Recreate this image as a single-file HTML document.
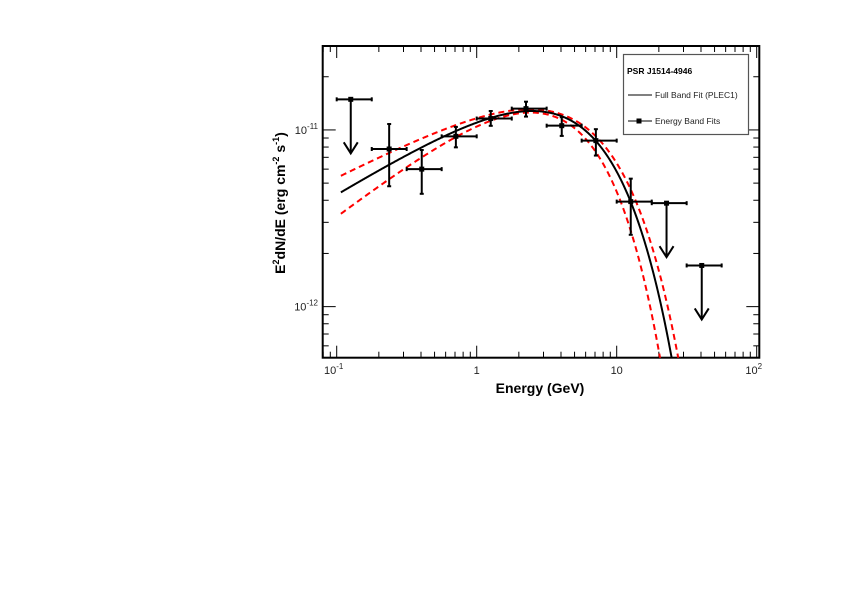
<!DOCTYPE html>
<html><head><meta charset="utf-8"><style>
html,body{margin:0;padding:0;background:#fff;width:842px;height:595px;overflow:hidden;}
svg{display:block;font-family:"Liberation Sans",Arial,sans-serif;}
</style></head><body>
<svg id="chart" width="842" height="595" viewBox="0 0 842 595" xmlns="http://www.w3.org/2000/svg">
<rect x="0" y="0" width="842" height="595" fill="#fff"/>
<g id="plot"></g>
<g id="legend">
  <rect x="623.5" y="54.5" width="125" height="80" fill="#fff" stroke="#555" stroke-width="1.2"/>
  <text x="627" y="74" font-size="8.5" font-weight="bold">PSR J1514-4946</text>
  <line x1="628" y1="95" x2="652" y2="95" stroke="#000" stroke-width="1"/>
  <text x="655" y="98" font-size="8.5" fill="#222">Full Band Fit (PLEC1)</text>
  <line x1="628" y1="121" x2="652" y2="121" stroke="#000" stroke-width="1"/>
  <rect x="636.5" y="118.5" width="5" height="5" fill="#000"/>
  <text x="655" y="124" font-size="8.5" fill="#222">Energy Band Fits</text>
</g>
</svg>
<script>
// ---- data ----
const pointE = [0.237, 0.405, 0.71, 1.26, 2.25, 4.05, 7.1, 12.6];
const pointF = [7.8e-12, 6.0e-12, 9.2e-12, 1.16e-11, 1.32e-11, 1.057e-11, 8.7e-12, 3.93e-12];
const pointFHi = [1.08e-11, 7.7e-12, 1.04e-11, 1.28e-11, 1.445e-11, 1.18e-11, 1.01e-11, 5.3e-12];
const pointFLo = [4.8e-12, 4.35e-12, 7.97e-12, 1.055e-11, 1.19e-11, 9.25e-12, 7.16e-12, 2.55e-12];
const pointELo = [0.178, 0.316, 0.562, 1.0, 1.78, 3.16, 5.62, 10.0];
const pointEHi = [0.316, 0.562, 1.0, 1.78, 3.16, 5.62, 10.0, 17.8];
const ulE = [0.126, 22.7, 40.5];
const ulF = [1.49e-11, 3.85e-12, 1.71e-12];
const ulELo = [0.1, 17.8, 31.6];
const ulEHi = [0.178, 31.6, 56.2];
// PLEC1 model params: [log10 K at 1 GeV, index term (2-Gamma), cutoff GeV]
const fitParams = [-10.874, 0.4846, 5.13];
const bandUpParams = [-10.861, 0.4028, 5.95];
const bandLoParams = [-10.8725, 0.6086, 4.0];
const xTickLabels = ["10", "1", "10", "10"];
const xTickSup = ["-1", "", "", "2"];

// ---- axes ----
const X0 = 322.7, X1 = 759.3, Y0 = 46, Y1 = 357.7;
const xMinL = -1.1, xMaxL = 2.0186, yMinL = -12.289, yMaxL = -10.525;
const xs = e => X0 + (Math.log10(e) - xMinL) / (xMaxL - xMinL) * (X1 - X0);
const ys = f => Y1 - (Math.log10(f) - yMinL) / (yMaxL - yMinL) * (Y1 - Y0);
const NS = "http://www.w3.org/2000/svg";
const plot = document.getElementById('plot');
function mk(tag, attrs, parent) {
  const el = document.createElementNS(NS, tag);
  for (const k in attrs) el.setAttribute(k, attrs[k]);
  (parent || plot).appendChild(el);
  return el;
}
const frame = mk('rect', {x: X0, y: Y0, width: X1 - X0, height: Y1 - Y0, fill: 'none', stroke: '#000', 'stroke-width': 2});


for (let d = -2; d <= 2; d++) {
  for (let m = 1; m <= 9; m++) {
    const e = m * Math.pow(10, d);
    const l = Math.log10(e);
    if (l < xMinL || l > xMaxL) continue;
    const x = xs(e), len = m === 1 ? 12 : 6;
    mk('line', {x1: x, y1: Y1, x2: x, y2: Y1 - len, stroke: '#000', 'stroke-width': 1});
    mk('line', {x1: x, y1: Y0, x2: x, y2: Y0 + len, stroke: '#000', 'stroke-width': 1});
  }
}
[0.1, 1, 10, 100].forEach((e, i) => {
  const t = mk('text', {x: xs(e) + (xTickSup[i] ? -3 : 0), y: 374, 'font-size': 11, 'text-anchor': 'middle', fill: '#222'});
  
  
  t.textContent = xTickLabels[i];
  if (xTickSup[i]) {
    const s = document.createElementNS(NS, 'tspan');
    s.setAttribute('dy', '-5'); s.setAttribute('font-size', '8');
    s.textContent = xTickSup[i];
    t.appendChild(s);
  }
});
for (let d = -13; d <= -10; d++) {
  for (let m = 1; m <= 9; m++) {
    const f = m * Math.pow(10, d);
    const l = Math.log10(f);
    if (l < yMinL || l > yMaxL) continue;
    const y = ys(f), len = m === 1 ? 13 : 6;
    mk('line', {x1: X0, y1: y, x2: X0 + len, y2: y, stroke: '#000', 'stroke-width': 1});
    mk('line', {x1: X1, y1: y, x2: X1 - len, y2: y, stroke: '#000', 'stroke-width': 1});
  }
}
[[1e-11, '-11'], [1e-12, '-12']].forEach(([f, s]) => {
  const t = mk('text', {x: 318, y: ys(f) + 4, 'font-size': 11, 'text-anchor': 'end', fill: '#222'});
  
  
  t.textContent = '10';
  const sp = document.createElementNS(NS, 'tspan');
  sp.setAttribute('dy', '-5'); sp.setAttribute('font-size', '8');
  sp.textContent = s;
  t.appendChild(sp);
});
const xt = mk('text', {x: 540, y: 393, 'font-size': 14, 'font-weight': 'bold', 'text-anchor': 'middle'});


xt.textContent = 'Energy (GeV)';
const yt = mk('text', {x: 0, y: 0, 'font-size': 14, 'font-weight': 'bold', 'text-anchor': 'middle', transform: 'translate(285,203) rotate(-90)'});


yt.innerHTML = 'E<tspan dy="-6" font-size="9">2</tspan><tspan dy="6">dN/dE (erg cm</tspan><tspan dy="-6" font-size="9">-2</tspan><tspan dy="6"> s</tspan><tspan dy="-6" font-size="9">-1</tspan><tspan dy="6">)</tspan>';

const defs = mk('defs', {});
const cp = mk('clipPath', {id: 'clip'}, defs);
mk('rect', {x: X0, y: Y0, width: X1 - X0, height: Y1 - Y0}, cp);

function model(p, e) { return Math.pow(10, p[0] + p[1] * Math.log10(e) - Math.log10(Math.E) * e / p[2]); }
function curve(p, color, dash, name) {
  let d = '';
  for (let i = 0; i <= 500; i++) {
    const e = Math.pow(10, -0.97 + i * (2.6 / 500));
    const f = model(p, e);
    let y = ys(f);
    const last = y > Y1 + 3;
    if (last) y = Y1 + 3;
    d += (i ? 'L' : 'M') + xs(e).toFixed(2) + ',' + y.toFixed(2);
    if (last) break;
  }
  const path = mk('path', {d: d, fill: 'none', stroke: color, 'stroke-width': 2, 'stroke-dasharray': dash, 'clip-path': 'url(#clip)'});
  
  
}
curve(bandUpParams, '#f00', '6,4', 'fit-band-upper');
curve(bandLoParams, '#f00', '6,4', 'fit-band-lower');
curve(fitParams, '#000', 'none', 'full-band-fit-curve');

pointE.forEach((e, i) => {
  const g = mk('g', {});
  
  
  const x = xs(e), y = ys(pointF[i]);
  const xl = xs(pointELo[i]), xh = xs(pointEHi[i]), yh = ys(pointFHi[i]), yl = ys(pointFLo[i]);
  const s = {stroke: '#000', 'stroke-width': 2};
  mk('line', Object.assign({x1: xl, y1: y, x2: xh, y2: y}, s), g);
  mk('line', Object.assign({x1: x, y1: yh, x2: x, y2: yl}, s), g);
  mk('line', Object.assign({x1: xl, y1: y - 2, x2: xl, y2: y + 2}, s), g);
  mk('line', Object.assign({x1: xh, y1: y - 2, x2: xh, y2: y + 2}, s), g);
  mk('line', Object.assign({x1: x - 2, y1: yh, x2: x + 2, y2: yh}, s), g);
  mk('line', Object.assign({x1: x - 2, y1: yl, x2: x + 2, y2: yl}, s), g);
  mk('rect', {x: x - 2.5, y: y - 2.5, width: 5, height: 5, fill: '#000'}, g);
});
ulE.forEach((e, i) => {
  const g = mk('g', {});
  
  
  const x = xs(e), y = ys(ulF[i]);
  const xl = xs(ulELo[i]), xh = xs(ulEHi[i]);
  const s = {stroke: '#000', 'stroke-width': 2, fill: 'none'};
  mk('line', Object.assign({x1: xl, y1: y, x2: xh, y2: y}, s), g);
  mk('line', Object.assign({x1: xl, y1: y - 2, x2: xl, y2: y + 2}, s), g);
  mk('line', Object.assign({x1: xh, y1: y - 2, x2: xh, y2: y + 2}, s), g);
  mk('line', Object.assign({x1: x, y1: y, x2: x, y2: y + 54}, s), g);
  mk('polyline', Object.assign({points: `${x - 7},${y + 43} ${x},${y + 54} ${x + 7},${y + 43}`}, s), g);
  mk('rect', {x: x - 2.5, y: y - 2.5, width: 5, height: 5, fill: '#000'}, g);
});
</script>
</body></html>
